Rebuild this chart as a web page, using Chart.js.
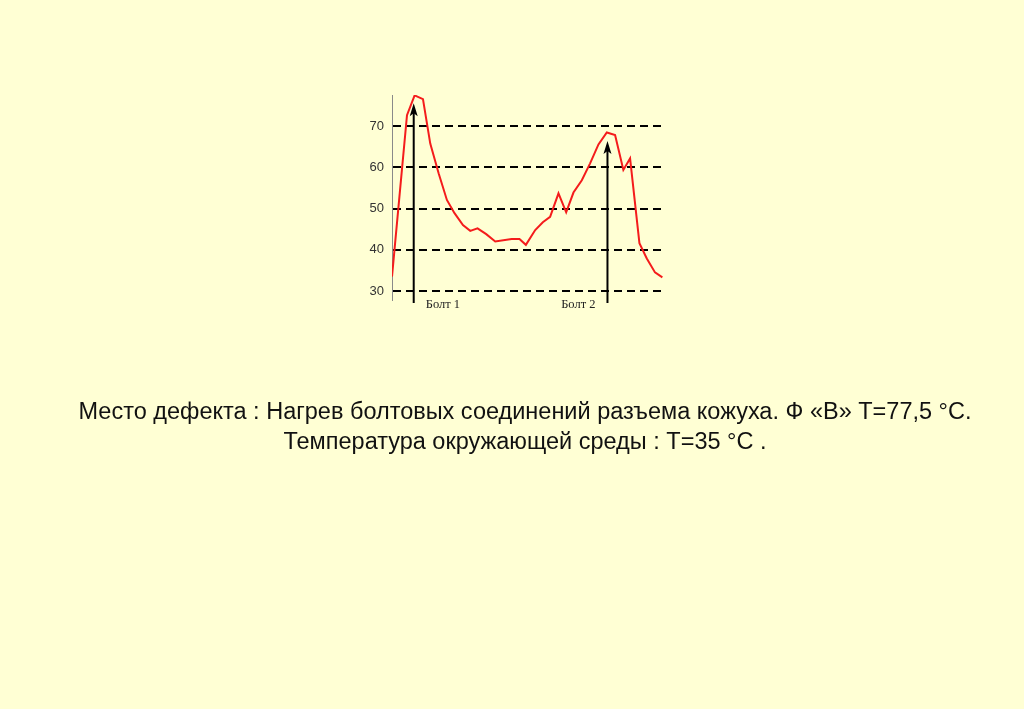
<!DOCTYPE html>
<html>
<head>
<meta charset="utf-8">
<script src="https://cdn.jsdelivr.net/npm/chart.js@4"></script>
<style>
  html, body { margin: 0; padding: 0; background: #FFFFD4; }
  #wrap { position: relative; width: 1024px; height: 709px; }
  #chart { position: absolute; left: 0; top: 0; }
  .caption {
    position: absolute; left: 0; width: 1050px; text-align: center; line-height: 27px;
    font-family: "Liberation Sans", Arial, sans-serif; font-size: 23.5px; color: #111;
  }
</style>
</head>
<body>
<div id="wrap">
  <canvas id="chart" width="1024" height="709"></canvas>
  <div class="caption" style="top:398px">Место дефекта : Нагрев болтовых соединений разъема кожуха. Ф «В» Т=77,5 °С.</div>
  <div class="caption" style="top:428px">Температура окружающей среды : Т=35 °С .</div>
</div>
<script>
// Профиль температуры вдоль кожуха (позиция, °C)
const positions = [0, 1.83, 2.76, 3.78, 4.67, 5.69, 6.7, 7.63, 8.66, 9.55, 10.44, 11.5, 12.6, 14.6,
  15.56, 16.34, 17.48, 18.41, 19.3, 20.32, 21.26, 22.15, 23.17, 24.18, 25.2, 26.22, 27.23, 28.24,
  29.06, 30.2, 31.1, 32.1, 33.0];
const temperatures = [33.5, 72.7, 77.5, 76.6, 65.8, 58.6, 52.1, 48.9, 46.0, 44.6, 45.2, 43.8, 42.0, 42.6,
  42.6, 41.2, 44.8, 46.7, 48.0, 53.7, 49.1, 53.9, 56.9, 61.0, 65.6, 68.5, 67.9, 59.4,
  62.2, 41.6, 37.9, 34.5, 33.3];
const yTicks = [30, 40, 50, 60, 70];

// Болты (стрелки)
const boltNames = ['Болт 1', 'Болт 2'];
const boltPositions = [2.65, 26.3];
const boltTops = [75.6, 66.4];
const boltLabelSide = ['right', 'left'];

// Рисует стрелки и подписи болтов
const boltPlugin = {
  id: 'bolts',
  afterDatasetsDraw(chart) {
    const { ctx, scales } = chart;
    const x = scales.x, y = scales.y;
    ctx.save();
    boltNames.forEach((name, i) => {
      const px = x.getPixelForValue(boltPositions[i]);
      const top = y.getPixelForValue(boltTops[i]);
      const bottom = y.bottom + 3;
      ctx.strokeStyle = '#000';
      ctx.fillStyle = '#000';
      ctx.lineWidth = 2;
      ctx.beginPath();
      ctx.moveTo(px, bottom);
      ctx.lineTo(px, top + 6);
      ctx.stroke();
      ctx.beginPath();
      ctx.moveTo(px, top);
      ctx.lineTo(px - 4, top + 13);
      ctx.lineTo(px, top + 10);
      ctx.lineTo(px + 4, top + 13);
      ctx.closePath();
      ctx.fill();
      ctx.font = '12.5px "Liberation Serif", "DejaVu Serif", serif';
      ctx.textBaseline = 'middle';
      ctx.fillStyle = '#222';
      if (boltLabelSide[i] === 'right') {
        ctx.textAlign = 'left';
        ctx.fillText(name, px + 12, y.bottom + 5);
      } else {
        ctx.textAlign = 'right';
        ctx.fillText(name, px - 12, y.bottom + 5);
      }
    });
    ctx.restore();
  }
};

const ctx = document.getElementById('chart').getContext('2d');
new Chart(ctx, {
  type: 'line',
  data: {
    datasets: [{
      data: positions.map((p, i) => ({ x: p, y: temperatures[i] })),
      borderColor: '#F41C1C',
      borderWidth: 2,
      pointRadius: 0,
      tension: 0
    }]
  },
  options: {
    responsive: false,
    animation: false,
    layout: { padding: { left: 362, right: 360, top: 95, bottom: 409 } },
    plugins: { legend: { display: false }, tooltip: { enabled: false } },
    scales: {
      x: { type: 'linear', min: 0, max: 33.2, display: false },
      y: {
        min: 27.8, max: 77.6,
        afterBuildTicks: (scale) => { scale.ticks = yTicks.map(v => ({ value: v })); },
        afterFit: (scale) => { scale.width = 30; },
        border: { display: true, color: '#8a8a8a', width: 1, dash: [8, 5] },
        grid: { color: '#000', lineWidth: 2, drawTicks: false },
        ticks: { color: '#333', padding: 8, font: { family: '"Liberation Sans", Arial, sans-serif', size: 13 } }
      }
    }
  },
  plugins: [boltPlugin]
});
</script>
</body>
</html>
